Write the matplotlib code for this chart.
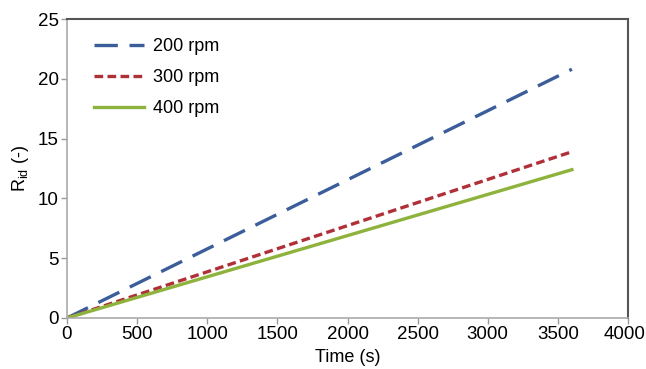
import matplotlib
matplotlib.use("Agg")
import matplotlib.pyplot as plt
from matplotlib.transforms import ScaledTranslation

plt.rcParams['font.family'] = ['Liberation Sans', 'DejaVu Sans']

time_s = [0, 3600]
r200 = [0, 20.8]
r300 = [0, 13.9]
r400 = [0, 12.4]
labels = ['200 rpm', '300 rpm', '400 rpm']

fig = plt.figure(figsize=(6.46, 3.69), dpi=100)
ax = fig.add_axes([67/646, 1-318/369, (628-67)/646, (318-19)/369])

ax.plot(time_s, r200, color='#3B5E9B', lw=2.4, dashes=(7, 3.5), label=labels[0])
ax.plot(time_s, r300, color='#B03038', lw=2.4, dashes=(2.6, 1.3), label=labels[1])
ax.plot(time_s, r400, color='#8DB33C', lw=2.4, label=labels[2])

ax.set_xlim(0, 4000)
ax.set_ylim(0, 25)
ax.set_xticks(range(0, 4001, 500))
ax.set_yticks(range(0, 26, 5))
ax.tick_params(labelsize=13.5, length=4, width=1, color='#999999', pad=2)
for s in ['top', 'right']:
    ax.spines[s].set_color('#555555')
    ax.spines[s].set_linewidth(1.5)
for s in ['left', 'bottom']:
    ax.spines[s].set_color('#aaaaaa')
    ax.spines[s].set_linewidth(1.2)

# keep the last x tick label inside the figure
last = ax.get_xticklabels()[-1]
last.set_transform(last.get_transform() + ScaledTranslation(-3/100, 0, fig.dpi_scale_trans))

ax.set_xlabel('Time (s)', fontsize=13, labelpad=4)
ax.set_ylabel(r'R$_{\mathregular{id}}$ (-)', fontsize=13, labelpad=5)

ax.legend(loc='upper left', frameon=False, fontsize=13, handlelength=2.8,
          handletextpad=0.5, labelspacing=0.78, borderaxespad=0.0,
          bbox_to_anchor=(0.035, 0.96))

fig.savefig('out.png', dpi=100)
